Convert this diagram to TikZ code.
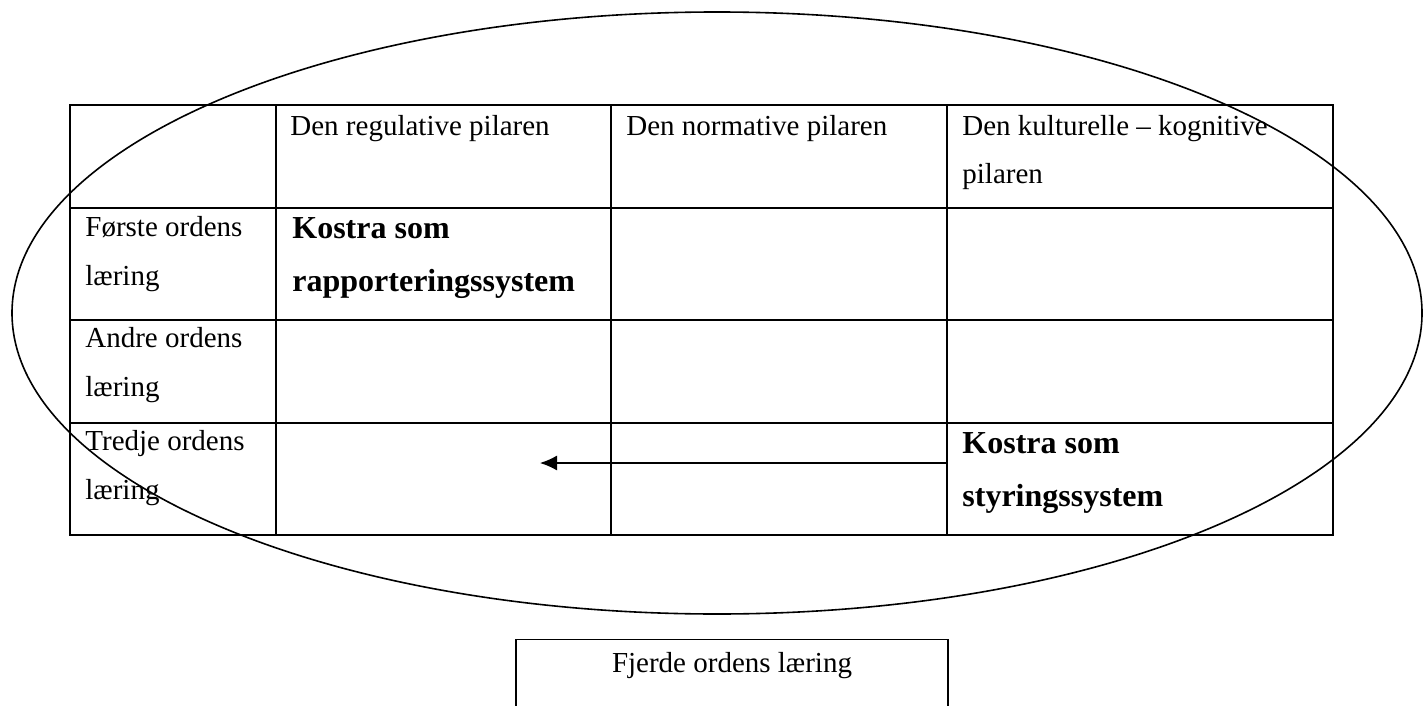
\documentclass[tikz,border=0pt]{standalone}
\usepackage{fontspec}
\setmainfont{Liberation Serif}
\usetikzlibrary{arrows.meta}

\begin{document}
\begin{tikzpicture}[x=0.5pt,y=-0.5pt,
  cell/.style={anchor=base west, inner sep=0pt, align=left, font=\fontsize{14.5}{24.5}\selectfont},
  boldcell/.style={cell, font=\fontsize{16}{26.5}\selectfont\bfseries},
  grid/.style={line width=1pt}]
\useasboundingbox (0,0) rectangle (1423,706);

% table
\draw[grid] (70,105) rectangle (1333,535);
\foreach \y in {208,320,423} \draw[grid] (70,\y) -- (1333,\y);
\foreach \x in {276,611,947} \draw[grid] (\x,105) -- (\x,535);

% base anchor sits on the last line
\node[cell] (hreg) at (290,135) {Den regulative pilaren};
\node[cell] (hnorm) at (626,135) {Den normative pilaren};
\node[cell] (hkult) at (962,184) {Den kulturelle -- kognitive\\pilaren};

\node[cell] (forste) at (85,285) {Første ordens\\læring};
\node[cell] (andre) at (85,396) {Andre ordens\\læring};
\node[cell] (tredje) at (85,499) {Tredje ordens\\læring};

\node[boldcell] (rapport) at (292,291) {Kostra som\\rapporteringssystem};
\node[boldcell] (styring) at (962,506) {Kostra som\\styringssystem};

% arrow
\coordinate (fra) at (947,463);
\coordinate (til) at (540,463);
\draw[line width=0.6pt, -{Latex[length=8.5pt,width=7.5pt]}] (fra) -- (til);

% oval
\draw[line width=0.8pt] (717,313) ellipse [x radius=705, y radius=301];

\node[draw, line width=0.7pt, anchor=north, inner sep=0pt, minimum width=216pt,
  text height=16.5pt, text depth=34.5pt, font=\fontsize{14.5}{24.5}\selectfont]
  (fjerde) at (732,639) {Fjerde ordens læring};
\end{tikzpicture}
\end{document}
